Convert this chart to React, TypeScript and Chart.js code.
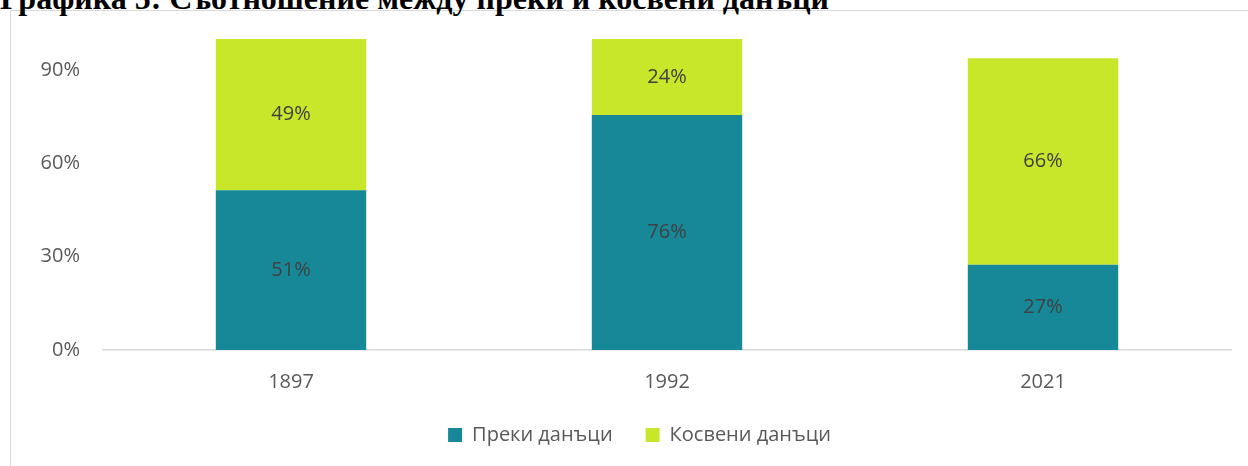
import React, { useEffect, useRef } from "react";
import { Chart, registerables } from "chart.js";

Chart.register(...registerables);

const titleText = "Графика 5: Съотношение между преки и косвени данъци";
const categories = ["1897", "1992", "2021"];
const seriesNames = ["Преки данъци", "Косвени данъци"];
const directTaxes = [51.4, 75.6, 27.4];
const indirectTaxes = [48.6, 24.4, 66.4];
const yTicks = [0, 30, 60, 90];

const seriesColors = ["#178898", "#C8E62A"];
const FONT = "'Open Sans', sans-serif";

const segmentLabels = {
  id: "segmentLabels",
  afterDatasetsDraw(chart: any) {
    const ctx = chart.ctx;
    ctx.save();
    ctx.font = `20px ${FONT}`;
    ctx.fillStyle = "#404040";
    ctx.textAlign = "center";
    ctx.textBaseline = "middle";
    chart.data.datasets.forEach((ds: any, di: number) => {
      const meta = chart.getDatasetMeta(di);
      meta.data.forEach((el: any, i: number) => {
        const p = el.getProps(["x", "y", "base"], true);
        ctx.fillText(`${Math.round(ds.data[i])}%`, p.x, (p.y + p.base) / 2);
      });
    });
    ctx.restore();
  },
};

// shift the legend box so it is centred under the plot like in the reference
const legendShift = {
  id: "legendShift",
  afterUpdate(chart: any) {
    const lg = chart.legend;
    if (lg) {
      lg.left += 24;
      lg.right += 24;
    }
  },
};

export default function App() {
  const canvasRef = useRef<HTMLCanvasElement | null>(null);

  useEffect(() => {
    const canvas = canvasRef.current;
    if (!canvas) return;
    const chart = new Chart(canvas, {
      type: "bar",
      data: {
        labels: categories,
        datasets: [
          {
            label: seriesNames[0],
            data: directTaxes,
            backgroundColor: seriesColors[0],
            borderWidth: 0,
          },
          {
            label: seriesNames[1],
            data: indirectTaxes,
            backgroundColor: seriesColors[1],
            borderWidth: 0,
          },
        ],
      },
      options: {
        responsive: false,
        animation: false,
        devicePixelRatio: 1,
        datasets: { bar: { categoryPercentage: 0.4, barPercentage: 1 } },
        layout: { padding: { left: 0, right: 17, top: 39, bottom: 11 } },
        scales: {
          x: {
            stacked: true,
            grid: { display: false, drawTicks: false },
            border: { display: true, color: "#d9d9d9", width: 1.5 },
            ticks: { color: "#595959", font: { family: FONT, size: 20 }, padding: 20 },
            afterFit: (s: any) => {
              s.height = 42;
            },
          },
          y: {
            stacked: true,
            min: 0,
            max: 100,
            grid: { display: false, drawTicks: false },
            border: { display: false },
            ticks: {
              color: "#595959",
              font: { family: FONT, size: 20 },
              padding: 23,
              callback: (v: any) => `${v}%`,
            },
            afterBuildTicks: (s: any) => {
              s.ticks = yTicks.map((v) => ({ value: v }));
            },
            afterFit: (s: any) => {
              s.width = 103;
            },
          },
        },
        plugins: {
          legend: {
            position: "bottom",
            labels: {
              color: "#595959",
              font: { family: FONT, size: 20 },
              boxWidth: 14,
              boxHeight: 14,
              padding: 33,
            },
          },
          tooltip: { enabled: false },
          title: { display: false },
        },
      },
      plugins: [segmentLabels, legendShift],
    });
    return () => chart.destroy();
  }, []);

  return (
    <div
      style={{
        position: "fixed",
        left: 0,
        top: 0,
        width: 1248,
        height: 466,
        background: "#ffffff",
        overflow: "hidden",
      }}
    >
      <div
        style={{
          position: "absolute",
          left: 10,
          top: 10,
          width: 1400,
          height: 600,
          border: "1px solid #d9d9d9",
        }}
      />
      <div
        style={{
          position: "absolute",
          left: 0,
          top: -18,
          whiteSpace: "nowrap",
          fontFamily: "'Liberation Serif', 'Times New Roman', serif",
          fontWeight: "bold",
          fontSize: 32,
          lineHeight: "32px",
          color: "#000000",
        }}
      >
        {titleText}
      </div>
      <canvas
        ref={canvasRef}
        width={1248}
        height={466}
        style={{ position: "absolute", left: 0, top: 0, width: 1248, height: 466 }}
      />
    </div>
  );
}
